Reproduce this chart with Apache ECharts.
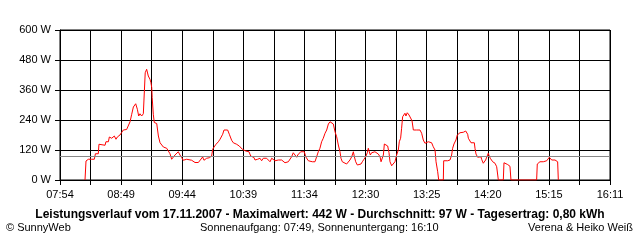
<!DOCTYPE html>
<html><head><meta charset="utf-8">
<script src="https://cdn.jsdelivr.net/npm/echarts@6/dist/echarts.min.js"></script>
<style>html,body{margin:0;padding:0;background:#fff}#c{width:640px;height:240px}</style>
</head><body><div id="c"></div>
<script>
// x tick labels (every second grid line), span 07:54 -> 16:11
const timeTickLabels = ['07:54','08:49','09:44','10:39','11:34','12:30','13:25','14:20','15:15','16:11'];
const spanMinutes = 497;
const gridSteps = 18;
const powerTicks = [0, 120, 240, 360, 480, 600];
const averageW = 97;

// readings: minutes after 07:54 and power in W
const morningMinutes = [22.6,23.5,25.6,28.6,29.5,30.1,31.0,31.6,32.0,34.6,35.2,36.1,40.7,41.5,43.7,44.6,46.7,48.2,49.1,50.6,51.8,54.2,55.7,57.2,60.2,61.7,63.3,64.8,66.3,68.4,69.9,71.1,72.3,73.8,75.3,77.0,78.3,79.8,81.3,82.2,82.9,83.3,84.3,85.2,86.7,87.4,88.3,88.9,90.4,91.9,93.4,94.9,96.4,97.9,99.4,100.9,102.4,103.9,105.4,106.9,108.4,109.9,111.4,113.0,114.5,116.0,119.0,120.5,122.0,125.0,126.5,128.9,130.1,131.0,132.5,134.9,137.0,138.0,139.2,141.0,143.1,144.6,147.0,148.2,150.0,151.5,153.0,155.1,156.6,158.1,159.6,162.0,163.3,164.8,166.3,167.8,169.3,170.8,172.3,173.8,175.3];
const morningPower = [0,76,83,83,76,76,83,83,105,105,143,139,139,153,153,172,167,170,176,163,172,180,190,200,202,209,233,263,292,305,283,256,265,256,265,429,443,416,403,389,369,330,263,230,230,226,196,176,149,143,132,130,127,116,105,83,90,100,105,113,100,90,79,76,83,76,79,74,70,70,76,92,79,85,87,89,96,123,132,143,153,163,183,200,207,200,183,159,149,145,143,136,132,123,130,116,123,113,96,92,90];

const middayMinutes = [176.2,177.1,178.6,179.8,180.7,182.2,183.7,185.2,186.7,188.2,189.8,191.3,192.8,194.3,195.8,197.3,198.8,200.3,201.8,203.3,204.8,206.3,207.8,209.3,210.8,212.3,213.9,214.8,216.0,217.5,219.0,220.8,222.0,223.5,224.4,225.9,228.0,230.4,232.2,233.4,234.9,236.4,237.9,239.5,241.0,242.5,244.0,245.5,247.0,248.5,250.0,251.5,253.0,253.9,255.1,256.9,259.0,260.5,262.0,263.6,265.1,266.0,267.2,268.7,270.2,272.0,273.2,274.7,276.2,277.7,278.6,279.5,280.4,281.6,283.1,284.6,286.1,287.6,289.2,290.1,291.3,292.2,293.1,294.6,296.1,297.3,298.2,299.7,301.2,302.7,304.2,305.7,306.6,307.8,308.7,309.6,310.8,311.7,312.6,313.8,315.4,316.3,317.2,318.1,319.3,322.3,325.3,326.8,328.3,329.8,331.3,332.8,334.3,335.8,337.3,338.9,339.8,341.3,342.2];
const middayPower = [80,73,83,77,87,77,87,83,87,80,73,87,80,77,73,80,76,80,73,69,67,73,77,93,109,104,91,100,107,113,117,113,93,87,77,80,73,73,73,113,127,153,167,187,200,224,233,236,224,193,173,140,113,87,73,67,64,67,80,93,113,93,73,60,53,64,73,83,93,109,127,113,100,109,117,113,109,104,93,73,80,100,144,140,136,109,73,57,64,73,100,120,153,167,207,253,260,267,256,269,260,267,260,237,200,200,200,187,160,147,147,153,160,149,133,120,73,33,0];

const afternoonMinutes = [346.4,346.7,350.3,351.0,352.4,353.9,354.8,356.0,356.9,357.8,359.0,359.9,361.4,364.5,365.4,366.6,367.5,368.4,369.0,370.5,371.4,372.9,374.4,375.0,375.9,377.4,378.9,380.4,381.0,382.5,383.4,384.6,385.5,386.4,387.0,387.9,388.8,390.0,391.0,392.2,393.1,394.6,395.5,396.1,400.6,401.2,402.7,404.5,405.7,406.6,407.5,430.7,431.3,433.7,435.2,436.7,439.8,441.3,442.2,443.1,444.3,445.8,447.3,448.8,449.7,450.3];
const afternoonPower = [0,77,77,73,80,100,127,144,147,160,180,187,189,191,193,196,191,183,167,160,149,144,149,127,104,91,87,93,83,67,73,80,73,87,107,96,87,83,73,67,67,53,47,0,0,69,67,62,58,55,0,0,64,73,77,73,77,83,91,83,80,83,80,77,73,0];

const mainTitle = 'Leistungsverlauf vom 17.11.2007 - Maximalwert: 442 W - Durchschnitt: 97 W - Tagesertrag: 0,80 kWh';
const footLeft = '© SunnyWeb';
const footCenter = 'Sonnenaufgang: 07:49, Sonnenuntergang: 16:10';
const footRight = 'Verena & Heiko Weiß';

const stepMin = spanMinutes / gridSteps;
const seriesData = [];
[[morningMinutes, morningPower],[middayMinutes, middayPower],[afternoonMinutes, afternoonPower]].forEach(([m, p]) => {
  const n = Math.min(m.length, p.length);
  for (let i = 0; i < n; i++) seriesData.push([m[i] / stepMin, p[i]]);
});

const FF = '"Liberation Sans", Arial, sans-serif';
const chart = echarts.init(document.getElementById('c'), null, {renderer: 'canvas'});
chart.setOption({
  animation: false,
  backgroundColor: '#ffffff',
  textStyle: {fontFamily: FF},
  title: [
    {text: mainTitle, left: 'center', top: 209, padding: 0, textStyle: {fontFamily: FF, fontSize: 12, fontWeight: 'bold', color: '#000'}},
    {text: footLeft, left: 6, top: 222, padding: 0, textStyle: {fontFamily: FF, fontSize: 11, fontWeight: 'normal', color: '#000'}},
    {text: footCenter, left: 200, top: 222, padding: 0, textStyle: {fontFamily: FF, fontSize: 11, fontWeight: 'normal', color: '#000'}},
    {text: footRight, right: 7, top: 222, padding: 0, textStyle: {fontFamily: FF, fontSize: 11, fontWeight: 'normal', color: '#000'}}
  ],
  grid: {left: 60, right: 30, top: 30, height: 150, show: true, borderColor: '#000', borderWidth: 1, backgroundColor: 'transparent'},
  xAxis: {
    type: 'value', min: 0, max: gridSteps, interval: 1, z: 3,
    axisLine: {onZero: false, lineStyle: {color: '#000', width: 1}},
    axisTick: {show: true, length: 5, lineStyle: {color: '#000', width: 1}},
    splitLine: {show: true, lineStyle: {color: '#000', width: 1}},
    axisLabel: {color: '#000', fontSize: 11, fontFamily: FF, margin: 9, showMinLabel: true, showMaxLabel: true,
      formatter: v => { const i = Math.round(v); return i % 2 === 0 ? (timeTickLabels[i / 2] || '') : ''; }}
  },
  yAxis: {
    type: 'value', min: powerTicks[0], max: powerTicks[powerTicks.length - 1], interval: powerTicks[1] - powerTicks[0],
    axisLine: {show: true, lineStyle: {color: '#000', width: 1}},
    axisTick: {show: true, length: 5, lineStyle: {color: '#000', width: 1}},
    splitLine: {show: true, lineStyle: {color: '#000', width: 1}},
    axisLabel: {color: '#000', fontSize: 11, fontFamily: FF, margin: 9, formatter: '{value} W'}
  },
  series: [{
    type: 'line', data: seriesData, symbol: 'none', showSymbol: false,
    lineStyle: {color: '#ff0000', width: 1}, itemStyle: {color: '#ff0000'},
    emphasis: {disabled: true},
    markLine: {silent: true, symbol: 'none', label: {show: false}, animation: false,
      lineStyle: {color: '#888888', type: 'solid', width: 1}, emphasis: {disabled: true},
      data: [{yAxis: averageW}]}
  }]
});
</script>
</body></html>
